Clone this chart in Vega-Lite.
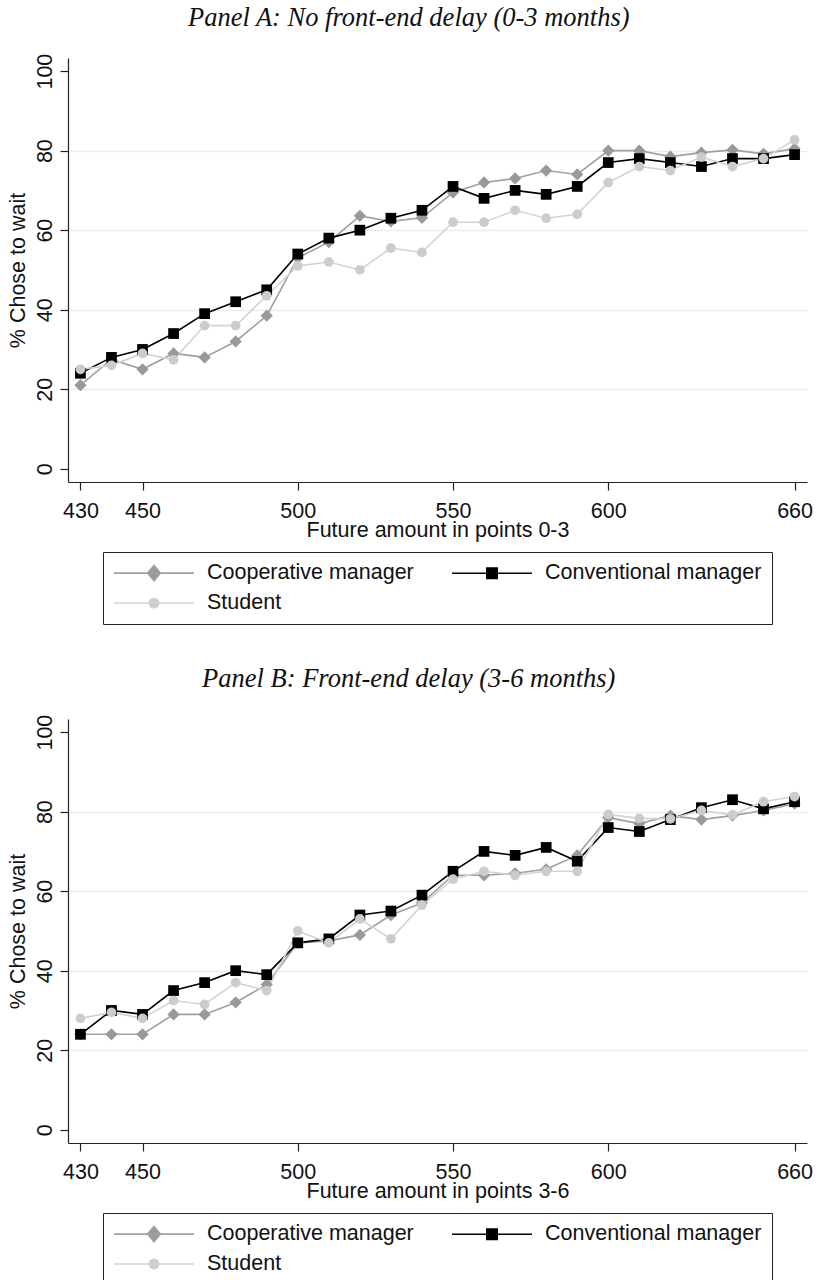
{
  "$schema": "https://vega.github.io/schema/vega-lite/v6.json",
  "background": "white",
  "padding": {"left": 7, "top": 4, "right": 0, "bottom": 0},
  "spacing": 40,
  "resolve": {"scale": {"stroke": "independent", "x": "independent", "y": "independent"}, "legend": {"stroke": "independent"}},
  "config": {
    "view": {"stroke": null},
    "font": "Liberation Sans",
    "axis": {
      "domainColor": "#222222", "domainWidth": 1.2,
      "tickColor": "#222222", "tickSize": 8, "tickWidth": 1.2,
      "labelFont": "Liberation Sans", "labelFontSize": 21.5, "labelColor": "#111111",
      "titleFont": "Liberation Sans", "titleFontSize": 21.5, "titleFontWeight": "normal", "titleColor": "#111111",
      "grid": false, "labelOverlap": false, "labelFlush": false
    },
    "legend": {
      "title": null, "orient": "none", "legendX": 35, "legendY": 494, "direction": "horizontal", "columns": 2,
      "symbolSize": 400, "symbolStrokeWidth": 1.6, "symbolOffset": 30,
      "labelFont": "Liberation Sans", "labelFontSize": 21.5, "labelColor": "#111111", "labelOffset": 42,
      "columnPadding": 34, "rowPadding": 8, "padding": 10, "strokeColor": "#222222", "fillColor": "white", "labelLimit": 400
    },
    "title": {"font": "Liberation Serif", "fontStyle": "italic", "fontWeight": "normal", "fontSize": 26.5, "color": "#111111", "frame": "bounds", "anchor": "middle", "offset": 22, "dx": -1}
  },
  "datasets": {
    "d": [
      {"panel": "A", "group": "Cooperative manager", "amount": 430, "pct": 21},
      {"panel": "A", "group": "Cooperative manager", "amount": 440, "pct": 27.5},
      {"panel": "A", "group": "Cooperative manager", "amount": 450, "pct": 25},
      {"panel": "A", "group": "Cooperative manager", "amount": 460, "pct": 29},
      {"panel": "A", "group": "Cooperative manager", "amount": 470, "pct": 28},
      {"panel": "A", "group": "Cooperative manager", "amount": 480, "pct": 32},
      {"panel": "A", "group": "Cooperative manager", "amount": 490, "pct": 38.5},
      {"panel": "A", "group": "Cooperative manager", "amount": 500, "pct": 53},
      {"panel": "A", "group": "Cooperative manager", "amount": 510, "pct": 57},
      {"panel": "A", "group": "Cooperative manager", "amount": 520, "pct": 63.6},
      {"panel": "A", "group": "Cooperative manager", "amount": 530, "pct": 62.2},
      {"panel": "A", "group": "Cooperative manager", "amount": 540, "pct": 63.1},
      {"panel": "A", "group": "Cooperative manager", "amount": 550, "pct": 69.5},
      {"panel": "A", "group": "Cooperative manager", "amount": 560, "pct": 72},
      {"panel": "A", "group": "Cooperative manager", "amount": 570, "pct": 73},
      {"panel": "A", "group": "Cooperative manager", "amount": 580, "pct": 75},
      {"panel": "A", "group": "Cooperative manager", "amount": 590, "pct": 74},
      {"panel": "A", "group": "Cooperative manager", "amount": 600, "pct": 80},
      {"panel": "A", "group": "Cooperative manager", "amount": 610, "pct": 80},
      {"panel": "A", "group": "Cooperative manager", "amount": 620, "pct": 78.5},
      {"panel": "A", "group": "Cooperative manager", "amount": 630, "pct": 79.5},
      {"panel": "A", "group": "Cooperative manager", "amount": 640, "pct": 80.2},
      {"panel": "A", "group": "Cooperative manager", "amount": 650, "pct": 79.2},
      {"panel": "A", "group": "Cooperative manager", "amount": 660, "pct": 80.5},
      {"panel": "A", "group": "Conventional manager", "amount": 430, "pct": 24},
      {"panel": "A", "group": "Conventional manager", "amount": 440, "pct": 28},
      {"panel": "A", "group": "Conventional manager", "amount": 450, "pct": 30},
      {"panel": "A", "group": "Conventional manager", "amount": 460, "pct": 34},
      {"panel": "A", "group": "Conventional manager", "amount": 470, "pct": 39},
      {"panel": "A", "group": "Conventional manager", "amount": 480, "pct": 42},
      {"panel": "A", "group": "Conventional manager", "amount": 490, "pct": 45},
      {"panel": "A", "group": "Conventional manager", "amount": 500, "pct": 54},
      {"panel": "A", "group": "Conventional manager", "amount": 510, "pct": 58},
      {"panel": "A", "group": "Conventional manager", "amount": 520, "pct": 60},
      {"panel": "A", "group": "Conventional manager", "amount": 530, "pct": 63},
      {"panel": "A", "group": "Conventional manager", "amount": 540, "pct": 65},
      {"panel": "A", "group": "Conventional manager", "amount": 550, "pct": 71},
      {"panel": "A", "group": "Conventional manager", "amount": 560, "pct": 68},
      {"panel": "A", "group": "Conventional manager", "amount": 570, "pct": 70},
      {"panel": "A", "group": "Conventional manager", "amount": 580, "pct": 69},
      {"panel": "A", "group": "Conventional manager", "amount": 590, "pct": 71},
      {"panel": "A", "group": "Conventional manager", "amount": 600, "pct": 77},
      {"panel": "A", "group": "Conventional manager", "amount": 610, "pct": 78},
      {"panel": "A", "group": "Conventional manager", "amount": 620, "pct": 77},
      {"panel": "A", "group": "Conventional manager", "amount": 630, "pct": 76},
      {"panel": "A", "group": "Conventional manager", "amount": 640, "pct": 78},
      {"panel": "A", "group": "Conventional manager", "amount": 650, "pct": 78},
      {"panel": "A", "group": "Conventional manager", "amount": 660, "pct": 79},
      {"panel": "A", "group": "Student", "amount": 430, "pct": 25},
      {"panel": "A", "group": "Student", "amount": 440, "pct": 26},
      {"panel": "A", "group": "Student", "amount": 450, "pct": 29},
      {"panel": "A", "group": "Student", "amount": 460, "pct": 27.4},
      {"panel": "A", "group": "Student", "amount": 470, "pct": 36},
      {"panel": "A", "group": "Student", "amount": 480, "pct": 36},
      {"panel": "A", "group": "Student", "amount": 490, "pct": 43.5},
      {"panel": "A", "group": "Student", "amount": 500, "pct": 51},
      {"panel": "A", "group": "Student", "amount": 510, "pct": 52},
      {"panel": "A", "group": "Student", "amount": 520, "pct": 50},
      {"panel": "A", "group": "Student", "amount": 530, "pct": 55.5},
      {"panel": "A", "group": "Student", "amount": 540, "pct": 54.4},
      {"panel": "A", "group": "Student", "amount": 550, "pct": 62},
      {"panel": "A", "group": "Student", "amount": 560, "pct": 62},
      {"panel": "A", "group": "Student", "amount": 570, "pct": 65},
      {"panel": "A", "group": "Student", "amount": 580, "pct": 63},
      {"panel": "A", "group": "Student", "amount": 590, "pct": 64},
      {"panel": "A", "group": "Student", "amount": 600, "pct": 72},
      {"panel": "A", "group": "Student", "amount": 610, "pct": 76},
      {"panel": "A", "group": "Student", "amount": 620, "pct": 75},
      {"panel": "A", "group": "Student", "amount": 630, "pct": 78.4},
      {"panel": "A", "group": "Student", "amount": 640, "pct": 76},
      {"panel": "A", "group": "Student", "amount": 650, "pct": 78},
      {"panel": "A", "group": "Student", "amount": 660, "pct": 82.7},
      {"panel": "B", "group": "Cooperative manager", "amount": 430, "pct": 24},
      {"panel": "B", "group": "Cooperative manager", "amount": 440, "pct": 24},
      {"panel": "B", "group": "Cooperative manager", "amount": 450, "pct": 24},
      {"panel": "B", "group": "Cooperative manager", "amount": 460, "pct": 29},
      {"panel": "B", "group": "Cooperative manager", "amount": 470, "pct": 29},
      {"panel": "B", "group": "Cooperative manager", "amount": 480, "pct": 32},
      {"panel": "B", "group": "Cooperative manager", "amount": 490, "pct": 36.5},
      {"panel": "B", "group": "Cooperative manager", "amount": 500, "pct": 47},
      {"panel": "B", "group": "Cooperative manager", "amount": 510, "pct": 47.5},
      {"panel": "B", "group": "Cooperative manager", "amount": 520, "pct": 49},
      {"panel": "B", "group": "Cooperative manager", "amount": 530, "pct": 54},
      {"panel": "B", "group": "Cooperative manager", "amount": 540, "pct": 57},
      {"panel": "B", "group": "Cooperative manager", "amount": 550, "pct": 64},
      {"panel": "B", "group": "Cooperative manager", "amount": 560, "pct": 64},
      {"panel": "B", "group": "Cooperative manager", "amount": 570, "pct": 64.5},
      {"panel": "B", "group": "Cooperative manager", "amount": 580, "pct": 65.5},
      {"panel": "B", "group": "Cooperative manager", "amount": 590, "pct": 69},
      {"panel": "B", "group": "Cooperative manager", "amount": 600, "pct": 78.5},
      {"panel": "B", "group": "Cooperative manager", "amount": 610, "pct": 77},
      {"panel": "B", "group": "Cooperative manager", "amount": 620, "pct": 79},
      {"panel": "B", "group": "Cooperative manager", "amount": 630, "pct": 78},
      {"panel": "B", "group": "Cooperative manager", "amount": 640, "pct": 79},
      {"panel": "B", "group": "Cooperative manager", "amount": 650, "pct": 80.3},
      {"panel": "B", "group": "Cooperative manager", "amount": 660, "pct": 82},
      {"panel": "B", "group": "Conventional manager", "amount": 430, "pct": 24},
      {"panel": "B", "group": "Conventional manager", "amount": 440, "pct": 30},
      {"panel": "B", "group": "Conventional manager", "amount": 450, "pct": 29},
      {"panel": "B", "group": "Conventional manager", "amount": 460, "pct": 35},
      {"panel": "B", "group": "Conventional manager", "amount": 470, "pct": 37},
      {"panel": "B", "group": "Conventional manager", "amount": 480, "pct": 40},
      {"panel": "B", "group": "Conventional manager", "amount": 490, "pct": 39},
      {"panel": "B", "group": "Conventional manager", "amount": 500, "pct": 47},
      {"panel": "B", "group": "Conventional manager", "amount": 510, "pct": 48},
      {"panel": "B", "group": "Conventional manager", "amount": 520, "pct": 54},
      {"panel": "B", "group": "Conventional manager", "amount": 530, "pct": 55},
      {"panel": "B", "group": "Conventional manager", "amount": 540, "pct": 59},
      {"panel": "B", "group": "Conventional manager", "amount": 550, "pct": 65},
      {"panel": "B", "group": "Conventional manager", "amount": 560, "pct": 70},
      {"panel": "B", "group": "Conventional manager", "amount": 570, "pct": 69},
      {"panel": "B", "group": "Conventional manager", "amount": 580, "pct": 71},
      {"panel": "B", "group": "Conventional manager", "amount": 590, "pct": 67.5},
      {"panel": "B", "group": "Conventional manager", "amount": 600, "pct": 76},
      {"panel": "B", "group": "Conventional manager", "amount": 610, "pct": 75},
      {"panel": "B", "group": "Conventional manager", "amount": 620, "pct": 78},
      {"panel": "B", "group": "Conventional manager", "amount": 630, "pct": 81},
      {"panel": "B", "group": "Conventional manager", "amount": 640, "pct": 83},
      {"panel": "B", "group": "Conventional manager", "amount": 650, "pct": 80.7},
      {"panel": "B", "group": "Conventional manager", "amount": 660, "pct": 82.5},
      {"panel": "B", "group": "Student", "amount": 430, "pct": 28},
      {"panel": "B", "group": "Student", "amount": 440, "pct": 29.5},
      {"panel": "B", "group": "Student", "amount": 450, "pct": 28},
      {"panel": "B", "group": "Student", "amount": 460, "pct": 32.5},
      {"panel": "B", "group": "Student", "amount": 470, "pct": 31.5},
      {"panel": "B", "group": "Student", "amount": 480, "pct": 37},
      {"panel": "B", "group": "Student", "amount": 490, "pct": 35},
      {"panel": "B", "group": "Student", "amount": 500, "pct": 50},
      {"panel": "B", "group": "Student", "amount": 510, "pct": 47},
      {"panel": "B", "group": "Student", "amount": 520, "pct": 53},
      {"panel": "B", "group": "Student", "amount": 530, "pct": 48},
      {"panel": "B", "group": "Student", "amount": 540, "pct": 56.5},
      {"panel": "B", "group": "Student", "amount": 550, "pct": 63},
      {"panel": "B", "group": "Student", "amount": 560, "pct": 65},
      {"panel": "B", "group": "Student", "amount": 570, "pct": 64},
      {"panel": "B", "group": "Student", "amount": 580, "pct": 65},
      {"panel": "B", "group": "Student", "amount": 590, "pct": 65},
      {"panel": "B", "group": "Student", "amount": 600, "pct": 79.3},
      {"panel": "B", "group": "Student", "amount": 610, "pct": 78.3},
      {"panel": "B", "group": "Student", "amount": 620, "pct": 78.2},
      {"panel": "B", "group": "Student", "amount": 630, "pct": 80.3},
      {"panel": "B", "group": "Student", "amount": 640, "pct": 79.2},
      {"panel": "B", "group": "Student", "amount": 650, "pct": 82.5},
      {"panel": "B", "group": "Student", "amount": 660, "pct": 83.8}
    ]
  },
  "vconcat": [
    {
      "width": 739, "height": 424,
      "title": {"text": "Panel A: No front-end delay (0-3 months)"},
      "data": {"name": "d"},
      "transform": [{"filter": "datum.panel === 'A'"}],
      "encoding": {
        "x": {"field": "amount", "type": "quantitative", "scale": {"domain": [426, 664], "nice": false, "zero": false},
              "axis": {"values": [430, 450, 500, 550, 600, 660], "title": "Future amount in points 0-3", "labelPadding": 10, "titlePadding": -2}},
        "y": {"field": "pct", "type": "quantitative", "scale": {"domain": [-3.34, 103.3], "nice": false, "zero": false},
              "axis": {"values": [0, 20, 40, 60, 80, 100], "title": "% Chose to wait", "labelAngle": 270, "labelPadding": 4, "titlePadding": 5, "grid": true, "gridWidth": 1.5,
                       "gridColor": {"condition": {"test": "datum.value === 0 || datum.value === 100", "value": "transparent"}, "value": "#e6eef1"}}}
      },
      "layer": [
        {"mark": {"type": "line", "strokeWidth": 1.6},
         "encoding": {"stroke": {"field": "group", "type": "nominal",
            "scale": {"domain": ["Cooperative manager", "Conventional manager", "Student"], "range": ["#a0a0a0", "#000000", "#d3d3d3"]},
            "legend": {
              "encode": {"symbols": {"update": {
                "shape": {"signal": "datum.value === 'Cooperative manager' ? 'M-4,0H4M-0.64,0L0,-0.76L0.64,0L0,0.76Z' : datum.value === 'Conventional manager' ? 'M-4,0H4M-0.52,-0.52H0.52V0.52H-0.52Z' : 'M-4,0H4M0.47,0A0.47,0.47,0,1,1,-0.47,0A0.47,0.47,0,1,1,0.47,0Z'"},
                "fill": {"signal": "datum.value === 'Cooperative manager' ? '#999999' : datum.value === 'Conventional manager' ? '#000000' : '#cccccc'"},
                "stroke": {"signal": "datum.value === 'Cooperative manager' ? '#a0a0a0' : datum.value === 'Conventional manager' ? '#000000' : '#d3d3d3'"},
                "strokeWidth": {"value": 1.6},
                "opacity": {"value": 1}}}}}}}},
        {"transform": [{"filter": "datum.group === 'Cooperative manager'"}],
         "mark": {"type": "point", "shape": "diamond", "filled": true, "fill": "#999999", "opacity": 1, "strokeWidth": 0, "size": 150}},
        {"transform": [{"filter": "datum.group === 'Conventional manager'"}],
         "mark": {"type": "point", "shape": "square", "filled": true, "fill": "#000000", "opacity": 1, "strokeWidth": 0, "size": 115}},
        {"transform": [{"filter": "datum.group === 'Student'"}],
         "mark": {"type": "point", "shape": "circle", "filled": true, "fill": "#cccccc", "opacity": 1, "strokeWidth": 0, "size": 95}}
      ]
    },
    {
      "width": 739, "height": 424,
      "title": {"text": "Panel B: Front-end delay (3-6 months)"},
      "data": {"name": "d"},
      "transform": [{"filter": "datum.panel === 'B'"}],
      "encoding": {
        "x": {"field": "amount", "type": "quantitative", "scale": {"domain": [426, 664], "nice": false, "zero": false},
              "axis": {"values": [430, 450, 500, 550, 600, 660], "title": "Future amount in points 3-6", "labelPadding": 10, "titlePadding": -2}},
        "y": {"field": "pct", "type": "quantitative", "scale": {"domain": [-3.34, 103.3], "nice": false, "zero": false},
              "axis": {"values": [0, 20, 40, 60, 80, 100], "title": "% Chose to wait", "labelAngle": 270, "labelPadding": 4, "titlePadding": 5, "grid": true, "gridWidth": 1.5,
                       "gridColor": {"condition": {"test": "datum.value === 0 || datum.value === 100", "value": "transparent"}, "value": "#e6eef1"}}}
      },
      "layer": [
        {"mark": {"type": "line", "strokeWidth": 1.6},
         "encoding": {"stroke": {"field": "group", "type": "nominal",
            "scale": {"domain": ["Cooperative manager", "Conventional manager", "Student"], "range": ["#a0a0a0", "#000000", "#d3d3d3"]},
            "legend": {
              "encode": {"symbols": {"update": {
                "shape": {"signal": "datum.value === 'Cooperative manager' ? 'M-4,0H4M-0.64,0L0,-0.76L0.64,0L0,0.76Z' : datum.value === 'Conventional manager' ? 'M-4,0H4M-0.52,-0.52H0.52V0.52H-0.52Z' : 'M-4,0H4M0.47,0A0.47,0.47,0,1,1,-0.47,0A0.47,0.47,0,1,1,0.47,0Z'"},
                "fill": {"signal": "datum.value === 'Cooperative manager' ? '#999999' : datum.value === 'Conventional manager' ? '#000000' : '#cccccc'"},
                "stroke": {"signal": "datum.value === 'Cooperative manager' ? '#a0a0a0' : datum.value === 'Conventional manager' ? '#000000' : '#d3d3d3'"},
                "strokeWidth": {"value": 1.6},
                "opacity": {"value": 1}}}}}}}},
        {"transform": [{"filter": "datum.group === 'Cooperative manager'"}],
         "mark": {"type": "point", "shape": "diamond", "filled": true, "fill": "#999999", "opacity": 1, "strokeWidth": 0, "size": 150}},
        {"transform": [{"filter": "datum.group === 'Conventional manager'"}],
         "mark": {"type": "point", "shape": "square", "filled": true, "fill": "#000000", "opacity": 1, "strokeWidth": 0, "size": 115}},
        {"transform": [{"filter": "datum.group === 'Student'"}],
         "mark": {"type": "point", "shape": "circle", "filled": true, "fill": "#cccccc", "opacity": 1, "strokeWidth": 0, "size": 95}}
      ]
    }
  ]
}
